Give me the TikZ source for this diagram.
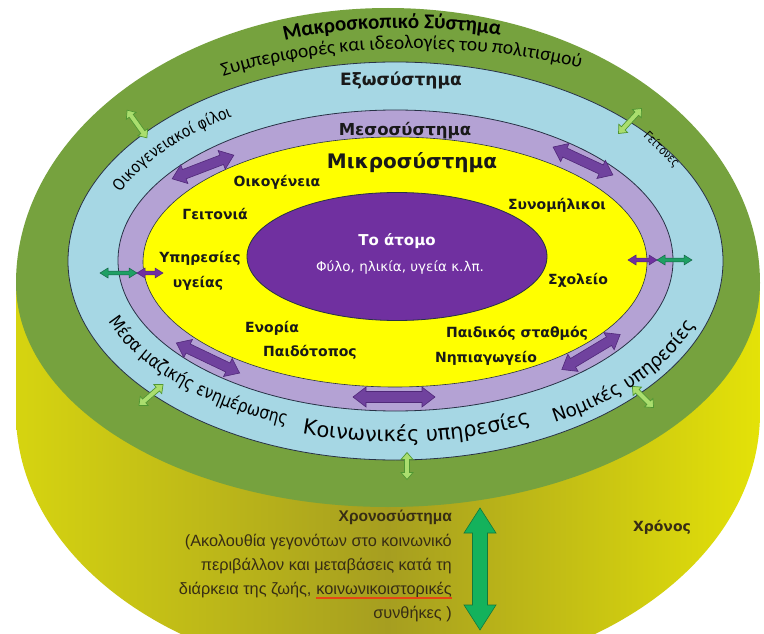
\documentclass[tikz,border=0pt]{standalone}
\usepackage{fontspec}
\setmainfont{DejaVu Sans}
\newfontfamily\carl{Carlito}
\newfontfamily\dvs{DejaVu Sans}
\newfontfamily\dvsc[FakeStretch=0.86]{DejaVu Sans}
\newfontfamily\libs{Liberation Sans}
\usetikzlibrary{decorations.text}
\definecolor{ringgreen}{RGB}{118,162,62}
\definecolor{ringblue}{RGB}{166,215,228}
\definecolor{ringlav}{RGB}{180,162,212}
\definecolor{ringyel}{RGB}{255,255,0}
\definecolor{corepurple}{RGB}{112,48,160}
\definecolor{arrpurple}{RGB}{112,66,158}
\definecolor{arrpurpleD}{RGB}{80,40,120}
\definecolor{lgreen}{RGB}{170,222,110}
\definecolor{lgreenD}{RGB}{80,150,50}
\definecolor{tealg}{RGB}{30,160,100}
\definecolor{tealgD}{RGB}{20,100,70}
\definecolor{biggreen}{RGB}{20,178,92}
\definecolor{biggreenD}{RGB}{20,120,60}
\definecolor{cylL}{RGB}{214,212,16}
\definecolor{cylM}{RGB}{166,158,32}
\definecolor{cylR}{RGB}{228,226,8}
\definecolor{edgecol}{RGB}{40,50,70}
\definecolor{btext}{RGB}{55,45,20}
\definecolor{ulred}{RGB}{230,70,20}
\newcommand{\blockarrow}[8]{%
  \begin{scope}[shift={(#2,#3)},rotate=#4]
  \path[#1] (-#5,0) -- ({-#5+#8},#7) -- ({-#5+#8},#6) -- ({#5-#8},#6) -- ({#5-#8},#7) -- (#5,0)
     -- ({#5-#8},-#7) -- ({#5-#8},-#6) -- ({-#5+#8},-#6) -- ({-#5+#8},-#7) -- cycle;
  \end{scope}}
\tikzset{
  purplearrow/.style={fill=arrpurple, draw=arrpurpleD, line width=0.6pt},
  purplesmall/.style={fill=corepurple, draw=arrpurpleD, line width=0.5pt},
  lgarrow/.style={fill=lgreen, draw=lgreenD, line width=0.7pt},
  tealarrow/.style={fill=tealg, draw=tealgD, line width=0.5pt},
  bigarrow/.style={fill=biggreen, draw=biggreenD, line width=0.6pt},
  ring/.style={draw=edgecol, line width=0.8pt},
  lbl/.style={font=\dvs\bfseries\fontsize{14}{14}\selectfont, text=black!90, inner sep=0pt},
  head/.style={font=\dvs\bfseries, text=black!90, inner sep=0pt},
  btxt/.style={font=\libs\fontsize{16.3}{16.3}\selectfont, text=btext, inner sep=0pt},
}
\begin{document}
\begin{tikzpicture}[x=1pt,y=-1pt]
\useasboundingbox (0,0) rectangle (764,634);
\fill[white] (0,0) rectangle (764,634);
\begin{scope}
\clip (0,0) rectangle (764,634);
% cylinder side (time)
\shade[left color=cylL, right color=cylR, middle color=cylM]
  (16,283) -- (16,413) arc[start angle=180,end angle=360,x radius=372pt,y radius=266pt] -- (760,283) -- cycle;
\end{scope}
% macro system (top face)
\fill[ringgreen] (16,283) arc[start angle=180,end angle=0,x radius=372pt,y radius=275pt]
  arc[start angle=0,end angle=-180,x radius=372pt,y radius=224pt] -- cycle;
% rings
\draw[ring, fill=ringblue] (395.5,261) ellipse [x radius=327.5pt, y radius=199pt];
\draw[ring, fill=ringlav] (395.5,260.5) ellipse [x radius=277.5pt, y radius=150.5pt];
\draw[ring, fill=ringyel, line width=0.6pt] (395,262) ellipse [x radius=252pt, y radius=125pt];
\draw[ring, fill=corepurple] (397,256.5) ellipse [x radius=150pt, y radius=64pt];

% purple block arrows (mesosystem)
\blockarrow{purplearrow}{203}{167}{21}{33}{5}{10}{13}
\blockarrow{purplearrow}{583}{161}{-25}{33}{5}{10}{13}
\blockarrow{purplearrow}{208}{358}{-25.5}{35}{5}{10}{13}
\blockarrow{purplearrow}{394}{397}{0}{41}{5.5}{10}{13}
\blockarrow{purplearrow}{591}{352}{31}{34}{5}{10}{13}
% light green arrows (exosystem <-> macrosystem)
\blockarrow{lgarrow}{137}{124}{-54.5}{17}{2.5}{6}{7}
\blockarrow{lgarrow}{630}{121}{47.5}{17}{2.5}{6}{7}
\blockarrow{lgarrow}{151}{395}{41}{16}{2.5}{6}{7}
\blockarrow{lgarrow}{643}{397}{-45}{15}{2.5}{6}{7}
\blockarrow{lgarrow}{407}{466}{90}{13.5}{2.5}{6}{7}
% small horizontal arrows
\blockarrow{tealarrow}{118.5}{273}{0}{18.5}{1.8}{5}{8}
\blockarrow{purplesmall}{150}{273}{0}{13}{1.8}{5}{8}
\blockarrow{purplesmall}{642.5}{260}{0}{14.5}{1.8}{5}{8}
\blockarrow{tealarrow}{674.5}{260}{0}{17.5}{1.8}{5}{8}
% big chronosystem arrow
\blockarrow{bigarrow}{480}{569}{90}{61}{7.5}{16}{25}

% curved texts
\path[decorate,decoration={text along path,text align=center,
  text={|\carl\bfseries\fontsize{21}{21}\selectfont|Μακροσκοπικό Σύστημα}}]
  (280,42) .. controls (340,25) and (440,25) .. (505,36);
\path[decorate,decoration={text along path,text align=center,
  text={|\carl\fontsize{19.5}{19.5}\selectfont|Συμπεριφορές και ιδεολογίες του πολιτισμού}}]
  (200,84) .. controls (318,40) and (480,38) .. (604,74);
\path[decorate,decoration={text along path,text align=center,
  text={|\dvsc\fontsize{16}{16}\selectfont|Οικογενειακοί φίλοι}}]
  plot[domain=0:74,samples=60] ({395+300*cos(181-\x)},{261-172*sin(181-\x)});
\path[decorate,decoration={text along path,text align=center,
  text={|\dvsc\fontsize{12}{12}\selectfont|Γείτονες}}]
  (641,134) -- (677,170);
\path[decorate,decoration={text along path,text align=center,
  text={|\dvsc\fontsize{18}{18}\selectfont|Μέσα μαζικής ενημέρωσης}}]
  plot[domain=0:72,samples=60] ({395+305*cos(174-\x)},{261+175*sin(174-\x)});
\path[decorate,decoration={text along path,text align=center,
  text={|\dvs\fontsize{21}{21}\selectfont|Κοινωνικές υπηρεσίες}}]
  plot[domain=0:88,samples=60] ({395+312*cos(129-\x)},{261+181*sin(129-\x)});
\path[decorate,decoration={text along path,text align=center,
  text={|\dvs\fontsize{18.5}{18.5}\selectfont|Νομικές υπηρεσίες}}]
  plot[domain=0:76,samples=60] ({395+320*cos(74-\x)},{261+187*sin(74-\x)});

% headings
\node[head, font=\dvs\bfseries\fontsize{17}{17}\selectfont] (exo) at (401,80) {Εξωσύστημα};
\node[head, font=\dvs\bfseries\fontsize{16.5}{16.5}\selectfont] (meso) at (405,131) {Μεσοσύστημα};
\node[head, font=\dvs\bfseries\fontsize{20}{20}\selectfont] (micro) at (412,163) {Μικροσύστημα};

% microsystem labels
\node[lbl] (oikog) at (277,182) {Οικογένεια};
\node[lbl] (geit) at (215,214) {Γειτονιά};
\node[lbl] (yp1) at (200,258) {Υπηρεσίες};
\node[lbl] (yp2) at (198,283) {υγείας};
\node[lbl] (enor) at (272,328) {Ενορία};
\node[lbl] (paidot) at (310,352) {Παιδότοπος};
\node[lbl] (paidst) at (517,333) {Παιδικός σταθμός};
\node[lbl] (nipi) at (486,358) {Νηπιαγωγείο};
\node[lbl] (synom) at (557,205) {Συνομήλικοι};
\node[lbl] (sxol) at (578,280) {Σχολείο};

% the person
\node[inner sep=0pt, text=white, font=\dvs\bfseries\fontsize{15}{15}\selectfont] (atomo) at (397,241) {Το άτομο};
\node[inner sep=0pt, text=white, font=\dvs\fontsize{13.5}{13.5}\selectfont] (fylo) at (400,268) {Φύλο, ηλικία, υγεία κ.λπ.};

% chronosystem
\node[btxt, font=\libs\bfseries\fontsize{15.5}{15.5}\selectfont, anchor=east] (chrono) at (452,517) {Χρονοσύστημα};
\node[btxt, anchor=east] (c1) at (452,542) {(Ακολουθία γεγονότων στο κοινωνικό};
\node[btxt, anchor=east] (c2) at (452,566) {περιβάλλον και μεταβάσεις κατά τη};
\node[btxt, anchor=east] (c3b) at (452,590) {κοινωνικοιστορικές};
\node[btxt, anchor=base east] (c3a) at ([xshift=-4.5pt]c3b.base west) {διάρκεια της ζωής,};
\node[btxt, anchor=east] (c4) at (452,614) {συνθήκες )};
\draw[ulred, line width=1.1pt] ([yshift=-3.5pt]c3b.base west) -- ([yshift=-3.5pt]c3b.base east);
\node[inner sep=0pt, text=btext, font=\dvs\bfseries\fontsize{14}{14}\selectfont] (xronos) at (662,527) {Χρόνος};
\end{tikzpicture}
\end{document}
